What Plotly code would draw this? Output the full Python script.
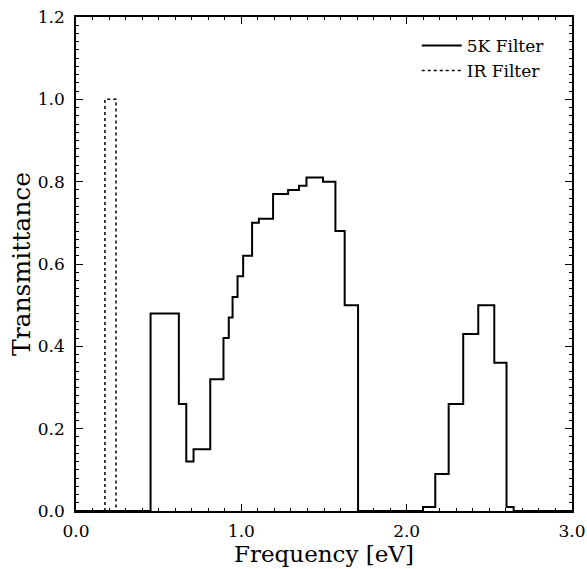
import plotly.graph_objects as go

# 5K filter: bin edges (eV) and transmittance per bin
k5_edges = [0.0, 0.451, 0.622, 0.667, 0.711, 0.812, 0.892, 0.924, 0.947, 0.977, 1.011,
            1.065, 1.106, 1.192, 1.283, 1.349, 1.394, 1.494, 1.569, 1.625, 1.706,
            2.099, 2.173, 2.254, 2.342, 2.433, 2.530, 2.604, 2.647, 3.0]
k5_values = [0.0, 0.48, 0.26, 0.12, 0.15, 0.32, 0.42, 0.47, 0.52, 0.57, 0.62,
             0.70, 0.71, 0.77, 0.78, 0.79, 0.81, 0.80, 0.68, 0.50, 0.0,
             0.01, 0.09, 0.26, 0.43, 0.50, 0.36, 0.01, 0.0, 0.0]

# IR filter: single passband
ir_lo, ir_hi, ir_val = 0.175, 0.242, 1.0
ir_x = [ir_lo, ir_lo, ir_hi, ir_hi]
ir_y = [0.0, ir_val, ir_val, 0.0]

x_ticks = [0.0, 1.0, 2.0, 3.0]
y_ticks = [0.0, 0.2, 0.4, 0.6, 0.8, 1.0, 1.2]

FONT = "DejaVu Serif"

fig = go.Figure()
fig.add_trace(go.Scatter(x=k5_edges, y=k5_values, mode="lines", line_shape="hv",
                         line=dict(color="black", width=2), name="5K Filter"))
fig.add_trace(go.Scatter(x=ir_x, y=ir_y, mode="lines",
                         line=dict(color="black", width=1.5, dash="dot"), name="IR Filter"))

axis_common = dict(showline=True, linecolor="black", linewidth=1.5, mirror="ticks",
                   ticks="inside", ticklen=7, tickwidth=1.2, tickcolor="black",
                   showgrid=False, zeroline=False, automargin=False,
                   ticklabeloverflow="allow",
                   tickfont=dict(family=FONT, size=17, color="black"))

fig.update_xaxes(range=[0, 3.0], tickvals=x_ticks, tickformat=".1f", ticklabelstandoff=4,
                 minor=dict(dtick=0.1, ticklen=3, ticks="inside", tickcolor="black", showgrid=False),
                 title=dict(text="Frequency [eV]", font=dict(family=FONT, size=23, color="black"), standoff=0),
                 **axis_common)
fig.update_yaxes(range=[0, 1.2], tickvals=y_ticks, tickformat=".1f", ticklabelstandoff=6,
                 minor=dict(dtick=0.02, ticklen=3, ticks="inside", tickcolor="black", showgrid=False),
                 title=dict(text="Transmittance", font=dict(family=FONT, size=25, color="black"), standoff=0),
                 **axis_common)

fig.update_layout(
    width=587, height=569,
    margin=dict(l=76, r=15, t=17, b=58),
    plot_bgcolor="white", paper_bgcolor="white",
    font=dict(family=FONT, color="black"),
    legend=dict(x=0.687, y=0.978, xanchor="left", yanchor="top",
                bgcolor="rgba(0,0,0,0)", borderwidth=0,
                font=dict(family=FONT, size=17, color="black"),
                tracegroupgap=0, itemwidth=40),
)

fig.write_html("out.html",
               config={"displayModeBar": False},
               post_script="document.body.style.margin='0px';document.body.style.overflow='hidden';")
